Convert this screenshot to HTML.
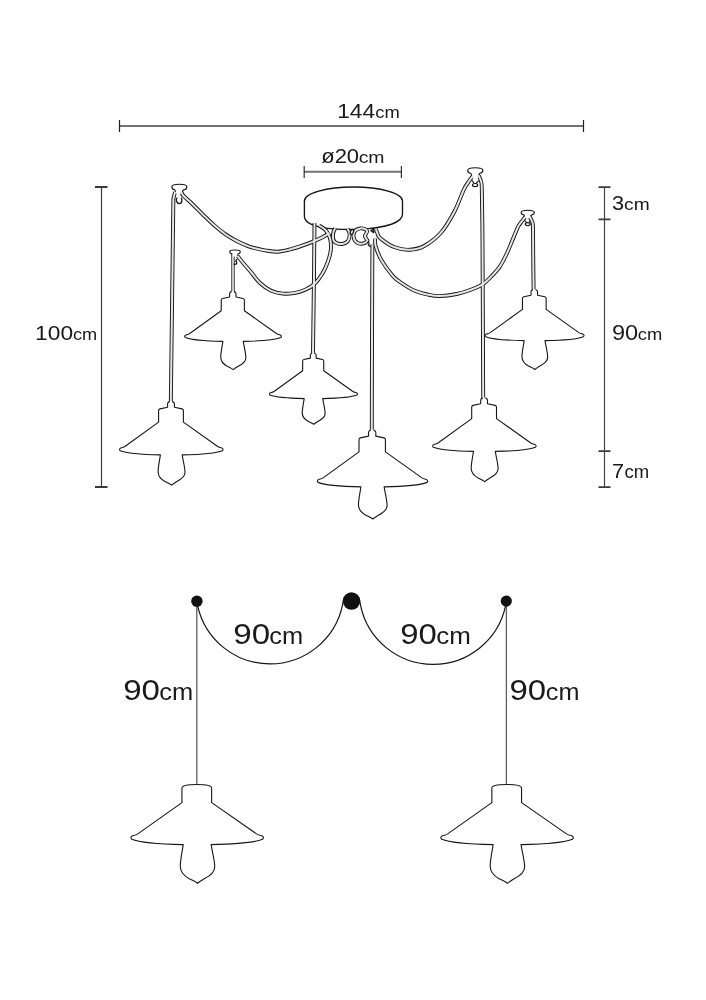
<!DOCTYPE html>
<html><head><meta charset="utf-8"><style>
html,body{margin:0;padding:0;background:#fff;}
body{width:706px;height:1000px;overflow:hidden;}
svg{display:block;font-family:"Liberation Sans",sans-serif;will-change:transform;}
</style></head><body>
<svg width="706" height="1000" viewBox="0 0 706 1000">
<rect width="706" height="1000" fill="#fff"/>
<path d="M119.5,125.9 H583.5" stroke="#727272" stroke-width="2.0"/>
<path d="M119.5,120 V132 M583.5,120 V132" stroke="#222" stroke-width="1.2"/>
<path d="M304.2,171.8 H401.4" stroke="#727272" stroke-width="2.0"/>
<path d="M304.2,166 V178 M401.4,166 V178" stroke="#333" stroke-width="1.2"/>
<path d="M101.5,187 V487" stroke="#404040" stroke-width="1.2"/>
<path d="M95,187 H107.5 M95,487 H107.5" stroke="#3a3a3a" stroke-width="1.8"/>
<path d="M604.5,187 V487" stroke="#404040" stroke-width="1.15"/>
<path d="M598.5,187.2 H610.5 M598.5,219.4 H610.5 M598.5,451.2 H610.5 M598.5,487.2 H610.5" stroke="#3a3a3a" stroke-width="1.7"/>
<path d="M304.4,216 L304.4,201 A49,14 0 0 1 402.5,201 L402.5,214 C402.5,222 388,227.8 358,229.4 C326,230 304.4,226.5 304.4,216 Z" fill="#fff" stroke="#161616" stroke-width="1.35"/>
<path d="M175.2,192 C174.95,192.92 174.02,195.33 173.7,197.5 C173.38,199.67 173.48,194.58 173.3,205 C173.12,215.42 172.88,237.5 172.6,260 C172.32,282.5 171.9,316.17 171.6,340 C171.3,363.83 170.93,392.5 170.8,403" stroke="#161616" stroke-width="3.9" fill="none"/>
<path d="M233,254 C233,257.5 233,268.67 233,275 C233,281.33 233,289.17 233,292" stroke="#161616" stroke-width="3.3" fill="none"/>
<path d="M314.5,223 C314.42,231.67 314.25,253.33 314,275 C313.75,296.67 313.17,340 313,353" stroke="#161616" stroke-width="3.9" fill="none"/>
<path d="M372.4,244.5 C372.33,260.42 372.1,308.92 372,340 C371.9,371.08 371.83,415.83 371.8,431" stroke="#161616" stroke-width="3.9" fill="none"/>
<path d="M478.2,175.2 C478.38,175.47 478.83,175.75 479.3,176.8 C479.77,177.85 480.58,179.63 481,181.5 C481.42,183.37 481.57,179.92 481.8,188 C482.03,196.08 482.25,214.17 482.4,230 C482.55,245.83 482.57,255 482.7,283 C482.83,311 483.12,378.83 483.2,398" stroke="#161616" stroke-width="3.9" fill="none"/>
<path d="M529.6,216.5 C529.93,217.17 531.05,218.92 531.6,220.5 C532.15,222.08 532.63,220.25 532.9,226 C533.17,231.75 533.08,244.33 533.2,255 C533.32,265.67 533.53,284.17 533.6,290" stroke="#161616" stroke-width="3.9" fill="none"/>
<path d="M181.5,192.5 C181.82,193.03 181.77,193.95 183.4,195.7 C185.03,197.45 188.08,199.88 191.3,203 C194.52,206.12 198.92,210.72 202.7,214.4 C206.48,218.08 210.23,221.8 214,225.1 C217.77,228.4 221.52,231.55 225.3,234.2 C229.08,236.85 232.92,239.02 236.7,241 C240.48,242.98 244.95,244.9 248,246.1 C251.05,247.3 251.95,247.45 255,248.2 C258.05,248.95 262.52,250.02 266.3,250.6 C270.08,251.18 273.92,251.85 277.7,251.7 C281.48,251.55 285.23,250.6 289,249.7 C292.77,248.8 296.52,247.57 300.3,246.3 C304.08,245.03 307.92,243.65 311.7,242.1 C315.48,240.55 320.03,238.52 323,237 C325.97,235.48 328.42,233.67 329.5,233" stroke="#161616" stroke-width="3.9" fill="none"/>
<path d="M237.6,256 C237.92,256.42 238.43,257.17 239.5,258.5 C240.57,259.83 242.17,261.83 244,264 C245.83,266.17 247.83,268.33 250.5,271.5 C253.17,274.67 256.53,279.78 260,283 C263.47,286.22 267.52,289.03 271.3,290.8 C275.08,292.57 278.92,293.22 282.7,293.6 C286.48,293.98 290.23,293.75 294,293.1 C297.77,292.45 301.9,291.22 305.3,289.7 C308.7,288.18 311.57,286.65 314.4,284 C317.23,281.35 320.03,277.58 322.3,273.8 C324.57,270.02 326.58,265.27 328,261.3 C329.42,257.33 330.38,253.48 330.8,250 C331.22,246.52 330.88,242.98 330.5,240.4 C330.12,237.82 329.42,236.32 328.5,234.5 C327.58,232.68 326.58,231 325,229.5 C323.42,228 320,226.17 319,225.5" stroke="#161616" stroke-width="3.9" fill="none"/>
<path d="M375.7,229 C375.95,229.58 376.48,231.02 377.2,232.5 C377.92,233.98 377.07,235.43 380,237.9 C382.93,240.37 389.85,245.32 394.8,247.3 C399.75,249.28 404.73,250.05 409.7,249.8 C414.67,249.55 419.3,248.77 424.6,245.8 C429.9,242.83 436.48,237.8 441.5,232 C446.52,226.2 451.05,217.92 454.7,211 C458.35,204.08 461.13,195.3 463.4,190.5 C465.67,185.7 466.93,184.35 468.3,182.2 C469.67,180.05 470.78,178.7 471.6,177.6 C472.42,176.5 472.93,175.93 473.2,175.6" stroke="#161616" stroke-width="3.9" fill="none"/>
<path d="M375.1,238.6 C375.2,239.88 374.67,242.75 375.7,246.3 C376.73,249.85 378.47,254.98 381.3,259.9 C384.13,264.82 389.58,272.12 392.7,275.8 C395.82,279.48 396.42,279.55 400,282 C403.58,284.45 409.48,288.38 414.2,290.5 C418.92,292.62 424.05,293.77 428.3,294.7 C432.55,295.63 434.97,296.22 439.7,296.1 C444.43,295.98 451.52,295.07 456.7,294 C461.88,292.93 466.43,291.35 470.8,289.7 C475.17,288.05 479.35,286.45 482.9,284.1 C486.45,281.75 489.25,278.55 492.1,275.6 C494.95,272.65 497.58,270 500,266.4 C502.42,262.8 504.73,257.85 506.6,254 C508.47,250.15 509.72,246.85 511.2,243.3 C512.68,239.75 514.25,235.65 515.5,232.7 C516.75,229.75 517.55,227.62 518.7,225.6 C519.85,223.58 521.32,222.03 522.4,220.6 C523.48,219.17 524.73,217.6 525.2,217" stroke="#161616" stroke-width="3.9" fill="none"/>
<path d="M335.2,228.4 C332.2,232 331.8,240 335.6,242.6 C339,244.8 345,244.4 347.6,241.4 C350.4,238 350.2,232.6 347.6,228.8" stroke="#161616" stroke-width="3.9" fill="none"/>
<path d="M367.2,230.4 C363.5,227.4 357,227.6 354.4,231.8 C352.4,235.6 353.6,241.4 358.2,243.2 C361.8,244.6 366.2,243.2 367.4,240.6 C366.6,238.8 364.9,237.6 364.9,236 C365.4,234.2 367.6,232.6 367.2,230.4" stroke="#161616" stroke-width="3.9" fill="none"/>
<path d="M175.35,193.7 C175.35,192.5 175.55,190.2 174.88,189.9 C171.75,189.7 171.9,187.05 171.9,186.76 C171.9,184.4 175.62,184.2 179.35,184.2 C183.07,184.2 186.8,184.4 186.8,186.76 C186.8,187.05 186.95,189.7 183.82,189.9 C182.15,190.2 182.35,192.5 182.35,193.7" fill="#fff" stroke="#161616" stroke-width="1.15"/>
<path d="M232.4,256.5 C232.4,255.3 232.6,254.2 231.82,253.9 C229.59,253.7 229.7,251.95 229.7,251.75 C229.7,250.2 232.35,250 235,250 C237.65,250 240.3,250.2 240.3,251.75 C240.3,251.95 240.41,253.7 238.18,253.9 C237.6,254.2 237.8,255.3 237.8,256.5" fill="#fff" stroke="#161616" stroke-width="1.15"/>
<path d="M471.55,178.2 C471.55,177 471.75,173.6 470.72,173.3 C467.55,173.1 467.7,170.5 467.7,170.22 C467.7,167.9 471.48,167.7 475.25,167.7 C479.02,167.7 482.8,167.9 482.8,170.22 C482.8,170.5 482.95,173.1 479.78,173.3 C478.55,173.6 478.75,177 478.75,178.2" fill="#fff" stroke="#161616" stroke-width="1.15"/>
<path d="M524.45,218.2 C524.45,217 524.65,215.2 523.82,214.9 C521.07,214.7 521.2,212.55 521.2,212.31 C521.2,210.4 524.48,210.2 527.75,210.2 C531.02,210.2 534.3,210.4 534.3,212.31 C534.3,212.55 534.43,214.7 531.68,214.9 C530.25,215.2 530.45,217 530.45,218.2" fill="#fff" stroke="#161616" stroke-width="1.15"/>
<path d="M175.2,192 C174.95,192.92 174.02,195.33 173.7,197.5 C173.38,199.67 173.48,194.58 173.3,205 C173.12,215.42 172.88,237.5 172.6,260 C172.32,282.5 171.9,316.17 171.6,340 C171.3,363.83 170.93,392.5 170.8,403" stroke="#e6e6e6" stroke-width="2.0" fill="none"/>
<path d="M233,254 C233,257.5 233,268.67 233,275 C233,281.33 233,289.17 233,292" stroke="#ffffff" stroke-width="1.5" fill="none"/>
<path d="M314.5,223 C314.42,231.67 314.25,253.33 314,275 C313.75,296.67 313.17,340 313,353" stroke="#e6e6e6" stroke-width="2.0" fill="none"/>
<path d="M372.4,244.5 C372.33,260.42 372.1,308.92 372,340 C371.9,371.08 371.83,415.83 371.8,431" stroke="#e6e6e6" stroke-width="2.0" fill="none"/>
<path d="M478.2,175.2 C478.38,175.47 478.83,175.75 479.3,176.8 C479.77,177.85 480.58,179.63 481,181.5 C481.42,183.37 481.57,179.92 481.8,188 C482.03,196.08 482.25,214.17 482.4,230 C482.55,245.83 482.57,255 482.7,283 C482.83,311 483.12,378.83 483.2,398" stroke="#e6e6e6" stroke-width="2.0" fill="none"/>
<path d="M529.6,216.5 C529.93,217.17 531.05,218.92 531.6,220.5 C532.15,222.08 532.63,220.25 532.9,226 C533.17,231.75 533.08,244.33 533.2,255 C533.32,265.67 533.53,284.17 533.6,290" stroke="#e6e6e6" stroke-width="2.0" fill="none"/>
<path d="M181.5,192.5 C181.82,193.03 181.77,193.95 183.4,195.7 C185.03,197.45 188.08,199.88 191.3,203 C194.52,206.12 198.92,210.72 202.7,214.4 C206.48,218.08 210.23,221.8 214,225.1 C217.77,228.4 221.52,231.55 225.3,234.2 C229.08,236.85 232.92,239.02 236.7,241 C240.48,242.98 244.95,244.9 248,246.1 C251.05,247.3 251.95,247.45 255,248.2 C258.05,248.95 262.52,250.02 266.3,250.6 C270.08,251.18 273.92,251.85 277.7,251.7 C281.48,251.55 285.23,250.6 289,249.7 C292.77,248.8 296.52,247.57 300.3,246.3 C304.08,245.03 307.92,243.65 311.7,242.1 C315.48,240.55 320.03,238.52 323,237 C325.97,235.48 328.42,233.67 329.5,233" stroke="#e6e6e6" stroke-width="2.0" fill="none"/>
<path d="M237.6,256 C237.92,256.42 238.43,257.17 239.5,258.5 C240.57,259.83 242.17,261.83 244,264 C245.83,266.17 247.83,268.33 250.5,271.5 C253.17,274.67 256.53,279.78 260,283 C263.47,286.22 267.52,289.03 271.3,290.8 C275.08,292.57 278.92,293.22 282.7,293.6 C286.48,293.98 290.23,293.75 294,293.1 C297.77,292.45 301.9,291.22 305.3,289.7 C308.7,288.18 311.57,286.65 314.4,284 C317.23,281.35 320.03,277.58 322.3,273.8 C324.57,270.02 326.58,265.27 328,261.3 C329.42,257.33 330.38,253.48 330.8,250 C331.22,246.52 330.88,242.98 330.5,240.4 C330.12,237.82 329.42,236.32 328.5,234.5 C327.58,232.68 326.58,231 325,229.5 C323.42,228 320,226.17 319,225.5" stroke="#e6e6e6" stroke-width="2.0" fill="none"/>
<path d="M375.7,229 C375.95,229.58 376.48,231.02 377.2,232.5 C377.92,233.98 377.07,235.43 380,237.9 C382.93,240.37 389.85,245.32 394.8,247.3 C399.75,249.28 404.73,250.05 409.7,249.8 C414.67,249.55 419.3,248.77 424.6,245.8 C429.9,242.83 436.48,237.8 441.5,232 C446.52,226.2 451.05,217.92 454.7,211 C458.35,204.08 461.13,195.3 463.4,190.5 C465.67,185.7 466.93,184.35 468.3,182.2 C469.67,180.05 470.78,178.7 471.6,177.6 C472.42,176.5 472.93,175.93 473.2,175.6" stroke="#e6e6e6" stroke-width="2.0" fill="none"/>
<path d="M375.1,238.6 C375.2,239.88 374.67,242.75 375.7,246.3 C376.73,249.85 378.47,254.98 381.3,259.9 C384.13,264.82 389.58,272.12 392.7,275.8 C395.82,279.48 396.42,279.55 400,282 C403.58,284.45 409.48,288.38 414.2,290.5 C418.92,292.62 424.05,293.77 428.3,294.7 C432.55,295.63 434.97,296.22 439.7,296.1 C444.43,295.98 451.52,295.07 456.7,294 C461.88,292.93 466.43,291.35 470.8,289.7 C475.17,288.05 479.35,286.45 482.9,284.1 C486.45,281.75 489.25,278.55 492.1,275.6 C494.95,272.65 497.58,270 500,266.4 C502.42,262.8 504.73,257.85 506.6,254 C508.47,250.15 509.72,246.85 511.2,243.3 C512.68,239.75 514.25,235.65 515.5,232.7 C516.75,229.75 517.55,227.62 518.7,225.6 C519.85,223.58 521.32,222.03 522.4,220.6 C523.48,219.17 524.73,217.6 525.2,217" stroke="#e6e6e6" stroke-width="2.0" fill="none"/>
<path d="M335.2,228.4 C332.2,232 331.8,240 335.6,242.6 C339,244.8 345,244.4 347.6,241.4 C350.4,238 350.2,232.6 347.6,228.8" stroke="#e6e6e6" stroke-width="2.0" fill="none"/>
<path d="M367.2,230.4 C363.5,227.4 357,227.6 354.4,231.8 C352.4,235.6 353.6,241.4 358.2,243.2 C361.8,244.6 366.2,243.2 367.4,240.6 C366.6,238.8 364.9,237.6 364.9,236 C365.4,234.2 367.6,232.6 367.2,230.4" stroke="#e6e6e6" stroke-width="2.0" fill="none"/>
<path d="M177.2,197.6 C175.4,199.5 176.4,203.6 179.4,203.6 C182.2,203.6 182.4,199.6 181.2,197.6" fill="#fff" stroke="#161616" stroke-width="1.35"/>
<path d="M233.6,264.3 L236.2,264 C237.2,263.4 236.6,261.6 235.8,261.2 C236,260.2 236.6,259.6 237.2,259.4" fill="none" stroke="#161616" stroke-width="1.35"/>
<path d="M471.6,180.0 L474.4,183.6 M478.6,180.6 L475.9,183.6" fill="none" stroke="#161616" stroke-width="1.1"/>
<ellipse cx="475.1" cy="185.1" rx="2.6" ry="1.6" fill="#fff" stroke="#161616" stroke-width="1.2"/>
<path d="M524.4,220.3 L527.0,222.8 M530.4,221.2 L528.6,222.8" fill="none" stroke="#161616" stroke-width="1.1"/>
<ellipse cx="527.8" cy="224.1" rx="2.5" ry="1.5" fill="#fff" stroke="#161616" stroke-width="1.2"/>
<ellipse cx="351.9" cy="232" rx="1.5" ry="2.5" transform="rotate(22 351.9 232)" fill="#fff" stroke="#161616" stroke-width="1.3"/>
<path d="M367.6,241.8 C369.6,242.6 369.2,244.2 368.4,245 C369.2,245.6 370.2,245.8 370.4,247.2" fill="none" stroke="#161616" stroke-width="1.25"/>
<path d="M370.9,230.6 L373.8,228.6 L373.8,232.6 Z" fill="#fff" stroke="#161616" stroke-width="1.3" stroke-linejoin="round"/>
<path d="M169.2,401 L169.2,401.9 Q167.6,402.3 167.6,403.7 L167.6,407.3 L160,408.9 Q158.6,409.2 158.6,410.7 L158.6,422.1 L124.9,446.5 C123.2,447.6 121.8,447.7 120.8,448 C119.4,448.5 119.2,449.9 120.2,450.7 C125,452.7 141,454.5 160.4,454.9 C159.4,461.5 158,467.5 158.1,472 C158.2,476 160.5,479 165,481.5 C167.5,482.7 169.8,483.7 171.6,485.1 C173,483.9 174.5,482.9 176.8,481.5 C181.8,479 185,476 185,472.3 C185,467.5 183.2,461.5 182.2,454.9 C201.6,454.5 217.6,452.7 222.4,450.7 C223.4,449.9 223.2,448.5 221.8,448 C220.8,447.7 219.4,447.6 217.7,446.5 L183.4,422.1 L183.4,410.7 Q183.4,409.2 182,408.9 L174.4,407.3 L174.4,403.7 Q174.4,402.3 172.8,401.9 L172.8,401" fill="#fff" stroke="#161616" stroke-width="1.1" stroke-linejoin="round"/>
<path d="M231.12,291.06 L231.12,291.9 Q229.62,292.28 229.62,293.58 L229.62,296.95 L222.53,298.44 Q221.22,298.72 221.22,300.12 L221.22,310.77 L189.74,333.56 C188.15,334.59 186.85,334.68 185.91,334.96 C184.61,335.43 184.42,336.73 185.35,337.48 C189.84,339.35 204.78,341.03 222.9,341.4 C221.97,347.57 220.66,353.17 220.75,357.38 C220.84,361.11 222.99,363.91 227.2,366.25 C229.53,367.37 231.68,368.3 233.36,369.61 C234.67,368.49 236.07,367.56 238.22,366.25 C242.89,363.91 245.88,361.11 245.88,357.66 C245.88,353.17 244.19,347.57 243.26,341.4 C261.38,341.03 276.32,339.35 280.81,337.48 C281.74,336.73 281.55,335.43 280.25,334.96 C279.31,334.68 278.01,334.59 276.42,333.56 L244.38,310.77 L244.38,300.12 Q244.38,298.72 243.07,298.44 L235.98,296.95 L235.98,293.58 Q235.98,292.28 234.48,291.9 L234.48,291.06" fill="#fff" stroke="#161616" stroke-width="1.1" stroke-linejoin="round"/>
<path d="M311.67,352.77 L311.67,353.54 Q310.31,353.88 310.31,355.07 L310.31,358.13 L303.85,359.49 Q302.66,359.75 302.66,361.02 L302.66,370.71 L274.01,391.45 C272.57,392.38 271.38,392.47 270.53,392.73 C269.34,393.15 269.17,394.34 270.02,395.02 C274.1,396.72 287.7,398.25 304.19,398.59 C303.34,404.2 302.15,409.3 302.24,413.12 C302.32,416.52 304.27,419.07 308.1,421.2 C310.22,422.22 312.18,423.07 313.71,424.26 C314.9,423.24 316.18,422.39 318.13,421.2 C322.38,419.07 325.1,416.52 325.1,413.38 C325.1,409.3 323.57,404.2 322.72,398.59 C339.21,398.25 352.81,396.72 356.89,395.02 C357.74,394.34 357.57,393.15 356.38,392.73 C355.53,392.47 354.34,392.38 352.89,391.45 L323.74,370.71 L323.74,361.02 Q323.74,359.75 322.55,359.49 L316.09,358.13 L316.09,355.07 Q316.09,353.88 314.73,353.54 L314.73,352.77" fill="#fff" stroke="#161616" stroke-width="1.1" stroke-linejoin="round"/>
<path d="M370.28,429.45 L370.28,430.41 Q368.58,430.83 368.58,432.32 L368.58,436.16 L360.49,437.86 Q358.99,438.18 358.99,439.78 L358.99,451.92 L323.1,477.9 C321.29,479.08 319.8,479.18 318.74,479.5 C317.25,480.03 317.03,481.53 318.1,482.38 C323.21,484.51 340.25,486.43 360.91,486.85 C359.85,493.88 358.36,500.27 358.46,505.06 C358.57,509.32 361.02,512.52 365.81,515.18 C368.47,516.46 370.92,517.52 372.84,519.01 C374.33,517.74 375.93,516.67 378.38,515.18 C383.7,512.52 387.11,509.32 387.11,505.38 C387.11,500.27 385.19,493.88 384.13,486.85 C404.79,486.43 421.83,484.51 426.94,482.38 C428.01,481.53 427.79,480.03 426.3,479.5 C425.24,479.18 423.75,479.08 421.94,477.9 L385.41,451.92 L385.41,439.78 Q385.41,438.18 383.91,437.86 L375.82,436.16 L375.82,432.32 Q375.82,430.83 374.12,430.41 L374.12,429.45" fill="#fff" stroke="#161616" stroke-width="1.1" stroke-linejoin="round"/>
<path d="M482.3,397.5 L482.3,398.4 Q480.7,398.8 480.7,400.2 L480.7,403.8 L473.1,405.4 Q471.7,405.7 471.7,407.2 L471.7,418.6 L438,443 C436.3,444.1 434.9,444.2 433.9,444.5 C432.5,445 432.3,446.4 433.3,447.2 C438.1,449.2 454.1,451 473.5,451.4 C472.5,458 471.1,464 471.2,468.5 C471.3,472.5 473.6,475.5 478.1,478 C480.6,479.2 482.9,480.2 484.7,481.6 C486.1,480.4 487.6,479.4 489.9,478 C494.9,475.5 498.1,472.5 498.1,468.8 C498.1,464 496.3,458 495.3,451.4 C514.7,451 530.7,449.2 535.5,447.2 C536.5,446.4 536.3,445 534.9,444.5 C533.9,444.2 532.5,444.1 530.8,443 L496.5,418.6 L496.5,407.2 Q496.5,405.7 495.1,405.4 L487.5,403.8 L487.5,400.2 Q487.5,398.8 485.9,398.4 L485.9,397.5" fill="#fff" stroke="#161616" stroke-width="1.1" stroke-linejoin="round"/>
<path d="M532.58,289.18 L532.58,290.04 Q531.05,290.42 531.05,291.76 L531.05,295.2 L523.79,296.73 Q522.46,297.01 522.46,298.45 L522.46,309.33 L490.27,332.63 C488.65,333.69 487.31,333.78 486.36,334.07 C485.02,334.55 484.83,335.88 485.79,336.65 C490.37,338.56 505.65,340.28 524.18,340.66 C523.22,346.96 521.88,352.69 521.98,356.99 C522.08,360.81 524.27,363.67 528.57,366.06 C530.96,367.21 533.15,368.16 534.87,369.5 C536.21,368.35 537.64,367.4 539.84,366.06 C544.61,363.67 547.67,360.81 547.67,357.27 C547.67,352.69 545.95,346.96 545,340.66 C563.52,340.28 578.8,338.56 583.39,336.65 C584.34,335.88 584.15,334.55 582.81,334.07 C581.86,333.78 580.52,333.69 578.9,332.63 L546.14,309.33 L546.14,298.45 Q546.14,297.01 544.8,296.73 L537.55,295.2 L537.55,291.76 Q537.55,290.42 536.02,290.04 L536.02,289.18" fill="#fff" stroke="#161616" stroke-width="1.1" stroke-linejoin="round"/>
<path d="M196.8,601 V786" stroke="#5e5e5e" stroke-width="1.3"/>
<path d="M506.4,601 V786" stroke="#5e5e5e" stroke-width="1.3"/>
<path d="M197.5,605.1 A74.1,74.1 0 0 0 342.5,605.1 L343.4,600" stroke="#161616" stroke-width="1.2" fill="none"/>
<path d="M359.6,600 L360.5,605.1 A74.1,74.1 0 0 0 505.6,605.6" stroke="#161616" stroke-width="1.2" fill="none"/>
<circle cx="196.9" cy="601.2" r="5.7" fill="#111"/>
<circle cx="506.3" cy="601.1" r="5.6" fill="#111"/>
<circle cx="351.5" cy="601" r="8.7" fill="#111"/>
<path d="M196.8,784.45 C187.84,784.45 181.95,784.96 181.95,788.04 L181.95,802.63 L137.79,833.86 C135.62,835.27 133.82,835.4 132.54,835.78 C130.75,836.42 130.5,838.21 131.78,839.24 C137.92,841.8 158.4,844.1 183.23,844.61 C181.95,853.06 180.16,860.74 180.29,866.5 C180.42,871.62 183.36,875.46 189.12,878.66 C192.32,880.2 195.26,881.48 197.57,883.27 C199.36,881.73 201.28,880.45 204.22,878.66 C210.62,875.46 214.72,871.62 214.72,866.88 C214.72,860.74 212.42,853.06 211.14,844.61 C235.97,844.1 256.45,841.8 262.59,839.24 C263.87,838.21 263.62,836.42 261.82,835.78 C260.54,835.4 258.75,835.27 256.58,833.86 L211.65,802.63 L211.65,788.04 C211.65,784.96 205.76,784.45 196.8,784.45" fill="#fff" stroke="#161616" stroke-width="1.1" stroke-linejoin="round"/>
<path d="M506.7,784.45 C497.74,784.45 491.85,784.96 491.85,788.04 L491.85,802.63 L447.69,833.86 C445.52,835.27 443.72,835.4 442.44,835.78 C440.65,836.42 440.4,838.21 441.68,839.24 C447.82,841.8 468.3,844.1 493.13,844.61 C491.85,853.06 490.06,860.74 490.19,866.5 C490.32,871.62 493.26,875.46 499.02,878.66 C502.22,880.2 505.16,881.48 507.47,883.27 C509.26,881.73 511.18,880.45 514.12,878.66 C520.52,875.46 524.62,871.62 524.62,866.88 C524.62,860.74 522.32,853.06 521.04,844.61 C545.87,844.1 566.35,841.8 572.49,839.24 C573.77,838.21 573.52,836.42 571.72,835.78 C570.44,835.4 568.65,835.27 566.48,833.86 L521.55,802.63 L521.55,788.04 C521.55,784.96 515.66,784.45 506.7,784.45" fill="#fff" stroke="#161616" stroke-width="1.1" stroke-linejoin="round"/>
<text x="337.25" y="118" font-size="20.5" textLength="37.83" lengthAdjust="spacingAndGlyphs" fill="#1a1a1a">144</text>
<text x="375.32" y="118" font-size="16.5" textLength="24.5" lengthAdjust="spacingAndGlyphs" fill="#1a1a1a">cm</text>
<text x="321.21" y="163" font-size="20" textLength="37.9" lengthAdjust="spacingAndGlyphs" fill="#1a1a1a">&#248;20</text>
<text x="358.65" y="163" font-size="16" textLength="25.87" lengthAdjust="spacingAndGlyphs" fill="#1a1a1a">cm</text>
<text x="35.11" y="340" font-size="20.5" textLength="38.01" lengthAdjust="spacingAndGlyphs" fill="#1a1a1a">100</text>
<text x="72.99" y="340" font-size="16.5" textLength="24.26" lengthAdjust="spacingAndGlyphs" fill="#1a1a1a">cm</text>
<text x="612.01" y="210" font-size="21" textLength="12.07" lengthAdjust="spacingAndGlyphs" fill="#1a1a1a">3</text>
<text x="624.08" y="210" font-size="17" textLength="25.55" lengthAdjust="spacingAndGlyphs" fill="#1a1a1a">cm</text>
<text x="612.01" y="340" font-size="21.5" textLength="26.21" lengthAdjust="spacingAndGlyphs" fill="#1a1a1a">90</text>
<text x="637.85" y="340" font-size="17" textLength="24.47" lengthAdjust="spacingAndGlyphs" fill="#1a1a1a">cm</text>
<text x="612.11" y="478" font-size="21" textLength="12.04" lengthAdjust="spacingAndGlyphs" fill="#1a1a1a">7</text>
<text x="624.58" y="478" font-size="17.8" textLength="24.71" lengthAdjust="spacingAndGlyphs" fill="#1a1a1a">cm</text>
<text x="233.26" y="644" font-size="29.5" textLength="36.85" lengthAdjust="spacingAndGlyphs" fill="#1a1a1a">90</text>
<text x="269.37" y="644" font-size="23.2" textLength="33.92" lengthAdjust="spacingAndGlyphs" fill="#1a1a1a">cm</text>
<text x="400.28" y="644" font-size="29.5" textLength="36.64" lengthAdjust="spacingAndGlyphs" fill="#1a1a1a">90</text>
<text x="436.2" y="644" font-size="23.2" textLength="34.6" lengthAdjust="spacingAndGlyphs" fill="#1a1a1a">cm</text>
<text x="123.26" y="700" font-size="29.5" textLength="36.76" lengthAdjust="spacingAndGlyphs" fill="#1a1a1a">90</text>
<text x="159.34" y="700" font-size="23.2" textLength="33.91" lengthAdjust="spacingAndGlyphs" fill="#1a1a1a">cm</text>
<text x="509.54" y="700" font-size="29.5" textLength="36.65" lengthAdjust="spacingAndGlyphs" fill="#1a1a1a">90</text>
<text x="545.8" y="700" font-size="23.2" textLength="33.61" lengthAdjust="spacingAndGlyphs" fill="#1a1a1a">cm</text>
</svg>
</body></html>
